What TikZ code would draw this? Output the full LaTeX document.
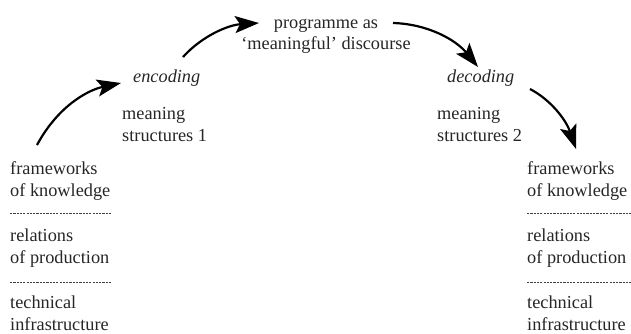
\documentclass[tikz,border=0pt]{standalone}
\usepackage{fontspec}
\setmainfont{Liberation Serif}
\usetikzlibrary{arrows.meta}
\tikzset{
  lbl/.style={anchor=base west, inner sep=0pt, font=\fontsize{18.3}{22}\selectfont, text=black!85},
  ctr/.style={anchor=base, inner sep=0pt, font=\fontsize{18.3}{22}\selectfont, text=black!85},
  sep/.style={line width=0.8pt, black!75, dash pattern=on 2.2pt off 1.1pt},
  flow/.style={line width=2.2pt, -{Stealth[length=24pt,width=17pt,inset=5pt]}}
}
\begin{document}
\begin{tikzpicture}[x=1pt,y=-1pt]
\useasboundingbox (0,0) rectangle (631,334);
% left block
\node[lbl] (l1) at (10,174) {frameworks};
\node[lbl] (l2) at (10,196) {of knowledge};
\node[lbl] (l3) at (10,241) {relations};
\node[lbl] (l4) at (10,263) {of production};
\node[lbl] (l5) at (10,308) {technical};
\node[lbl] (l6) at (10,330) {infrastructure};
\coordinate (ld1a) at (10,213); \coordinate (ld1b) at (112,213);
\coordinate (ld2a) at (10,282); \coordinate (ld2b) at (112,282);
\draw[sep] (ld1a) -- (ld1b);
\draw[sep] (ld2a) -- (ld2b);
% right block
\node[lbl] (r1) at (527,174) {frameworks};
\node[lbl] (r2) at (527,196) {of knowledge};
\node[lbl] (r3) at (527,241) {relations};
\node[lbl] (r4) at (527,263) {of production};
\node[lbl] (r5) at (527,308) {technical};
\node[lbl] (r6) at (527,330) {infrastructure};
\coordinate (rd1a) at (527,213); \coordinate (rd1b) at (631,213);
\coordinate (rd2a) at (527,282); \coordinate (rd2b) at (631,282);
\draw[sep] (rd1a) -- (rd1b);
\draw[sep] (rd2a) -- (rd2b);
% encoding
\node[lbl] (enc) at (133,83) {\itshape encoding};
\node[lbl] (m1a) at (122,119) {meaning};
\node[lbl] (m1b) at (122,141) {structures 1};
% programme
\node[ctr] (p1) at (326,29) {programme as};
\node[ctr] (p2) at (326,50) {`meaningful' discourse};
% decoding
\node[lbl] (dec) at (447,83) {\itshape decoding};
\node[lbl] (m2a) at (437,119) {meaning};
\node[lbl] (m2b) at (437,141) {structures 2};
% arrows
\coordinate (a1s) at (37,145); \coordinate (a1e) at (121,83);
\coordinate (a2s) at (183,57); \coordinate (a2e) at (259,23);
\coordinate (a3s) at (393,23); \coordinate (a3e) at (478,67);
\coordinate (a4s) at (530,89); \coordinate (a4e) at (576,149);
\draw[flow] (a1s) .. controls (58,106) and (88,90) .. (a1e);
\draw[flow] (a2s) .. controls (202,36) and (228,25) .. (a2e);
\draw[flow] (a3s) .. controls (428,24) and (456,40) .. (a3e);
\draw[flow] (a4s) .. controls (551,100) and (566,120) .. (a4e);
\end{tikzpicture}
\end{document}
